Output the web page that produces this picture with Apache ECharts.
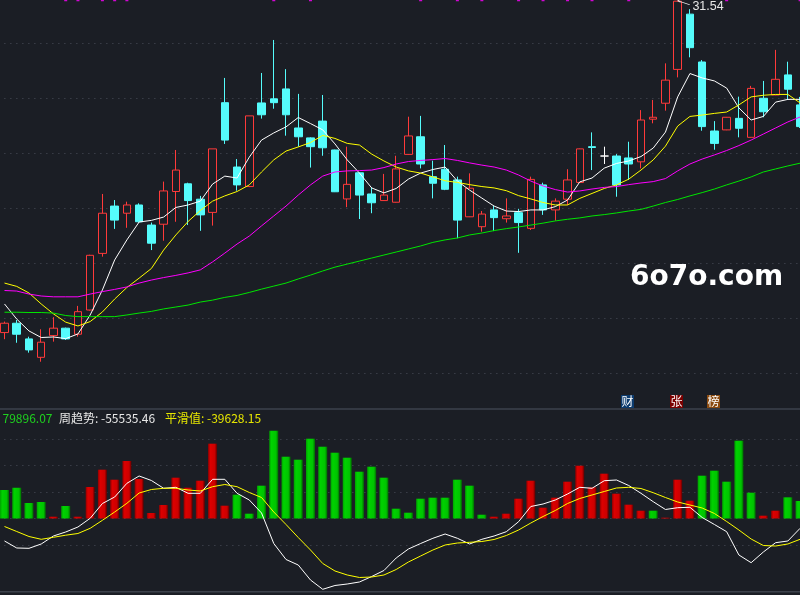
<!DOCTYPE html>
<html><head><meta charset="utf-8">
<script src="https://cdn.jsdelivr.net/npm/echarts@6.0.0/dist/echarts.min.js"></script>
<style>html,body{margin:0;padding:0;background:#1b1e25;}#c{width:800px;height:595px;}</style>
</head><body><div id="c"></div>
<script>
// ---- main panel: [open, close, low, high]
const ohlc = [
 [19.47,19.81,19.23,19.87],[19.81,19.41,19.10,19.93],[19.24,18.84,18.74,19.32],[18.57,19.12,18.41,19.59],
 [19.36,19.63,19.14,20.03],[19.63,19.24,19.20,19.65],[19.41,20.23,19.32,20.44],[20.29,22.28,20.27,22.30],
 [22.35,23.81,22.23,24.51],[24.07,23.56,23.24,24.29],[23.81,24.11,23.28,24.23],[24.11,23.50,23.47,24.17],
 [23.38,22.72,22.47,23.47],[23.41,24.62,22.81,24.96],[24.60,25.38,23.50,26.11],[24.88,24.27,23.38,24.92],
 [24.32,23.75,23.17,24.44],[23.84,26.15,23.36,26.15],[27.83,26.47,26.33,28.73],[25.49,24.84,24.63,25.78],
 [24.78,27.35,24.76,27.35],[27.82,27.39,27.25,28.91],[27.97,27.83,27.61,30.11],[28.33,27.39,26.63,29.05],
 [26.91,26.59,26.23,28.15],[26.55,26.23,25.47,26.57],[27.16,26.19,25.90,28.11],[26.11,24.59,24.58,26.12],
 [24.33,24.86,24.03,26.23],[25.28,24.47,23.60,25.29],[24.51,24.19,23.81,24.75],[24.27,24.47,24.26,25.24],
 [24.21,25.42,24.20,25.90],[25.95,26.62,25.94,27.32],[26.59,25.60,25.44,27.35],[25.14,24.90,24.35,25.72],
 [25.41,24.68,24.65,26.29],[25.02,23.56,22.90,25.14],[23.68,24.72,23.67,25.26],[23.32,23.78,23.14,23.89],
 [23.93,23.65,23.16,24.08],[23.61,23.71,23.47,24.35],[23.83,23.47,22.37,23.97],[23.26,25.04,23.20,25.14],
 [24.84,23.93,23.75,24.92],[23.93,24.25,23.54,24.35],[24.32,25.02,24.11,25.41],[24.93,26.15,24.92,26.16],
 [26.23,26.20,25.38,26.75],[25.89,25.89,25.60,26.23],[25.89,24.84,24.41,25.96],[25.82,25.60,25.02,26.41],
 [25.68,27.20,25.44,27.56],[27.23,27.30,27.08,27.93],[27.81,28.65,27.54,29.26],[29.04,31.52,28.75,31.54],
 [31.05,29.83,29.48,31.23],[29.31,26.96,26.81,29.38],[26.80,26.35,26.12,27.16],[26.84,27.30,26.83,27.31],
 [27.26,26.90,26.57,28.05],[26.57,28.35,26.56,28.44],[27.99,27.50,27.30,28.62],[28.11,28.68,28.10,29.75],
 [28.84,28.32,27.93,29.32],[27.75,26.96,26.91,28.04]
];
const maWhite = [20.51,19.96,19.53,19.29,19.31,19.25,19.42,20.11,21.02,22.11,22.84,23.49,23.55,23.67,24.02,24.11,24.25,24.87,25.16,25.09,25.85,26.47,26.73,26.95,27.29,27.07,26.84,26.33,25.75,25.27,24.73,24.55,24.71,25.05,25.27,25.40,25.49,24.98,24.65,24.36,24.07,23.89,23.87,23.93,23.93,24.05,24.29,24.95,25.09,25.45,25.62,25.71,25.87,26.18,26.76,28.04,28.89,28.73,28.62,28.36,27.64,27.20,27.33,27.85,27.95,27.95];
const maYellow = [21.27,21.15,20.91,20.51,20.15,19.85,19.71,19.87,20.22,20.69,21.11,21.45,21.80,22.47,23.02,23.51,23.91,24.25,24.44,24.60,24.84,25.31,25.75,26.07,26.22,26.38,26.64,26.53,26.35,26.29,25.96,25.71,25.49,25.35,25.27,25.13,24.99,24.93,24.85,24.78,24.73,24.63,24.45,24.33,24.20,24.11,24.11,24.35,24.53,24.71,24.84,25.05,25.38,25.75,26.25,26.98,27.33,27.38,27.44,27.49,27.75,28.04,28.10,28.13,28.13,27.82];
const maMagenta = [21.00,20.98,20.87,20.80,20.77,20.77,20.77,20.87,20.96,21.04,21.13,21.27,21.38,21.47,21.55,21.64,21.75,22.04,22.36,22.69,22.98,23.35,23.71,24.07,24.47,24.84,25.16,25.31,25.35,25.36,25.38,25.47,25.60,25.69,25.73,25.76,25.80,25.73,25.64,25.56,25.49,25.38,25.20,24.98,24.80,24.67,24.58,24.62,24.69,24.75,24.78,24.85,24.91,24.96,25.07,25.35,25.60,25.78,25.93,26.09,26.27,26.47,26.69,26.91,27.13,27.31];
const maGreen = [20.21,20.21,20.20,20.20,20.18,20.09,20.05,20.05,20.05,20.05,20.11,20.18,20.24,20.33,20.40,20.47,20.58,20.65,20.75,20.82,20.93,21.05,21.16,21.27,21.42,21.56,21.71,21.85,21.96,22.07,22.18,22.29,22.40,22.51,22.62,22.75,22.84,22.91,23.02,23.09,23.18,23.25,23.31,23.38,23.45,23.53,23.59,23.64,23.71,23.76,23.82,23.89,23.95,24.07,24.20,24.31,24.44,24.56,24.69,24.84,24.98,25.13,25.31,25.42,25.53,25.63];
// signal marks along the top edge (candle indices)
const signalIdx = [5,6,8,9,10,22,25,34,37,39,42,44,46,48,51,59,65];
const signalLevel = 31.545;

// ---- lower panel
const barValues = [107500,116000,58500,62300,6800,47200,6800,118900,184200,146400,217000,149100,20800,50900,154000,116200,142600,282300,48300,89800,18100,123800,331300,233200,221900,301100,270900,248300,229400,176600,195500,154000,37000,21900,74700,78500,78500,146400,123800,14300,6800,18100,74700,142600,40800,78500,138900,199200,117700,169100,93600,52100,29400,29400,3000,146400,67200,161500,180400,138900,293600,97400,10600,29400,79896.07,66000];
// 1 = red bar, -1 = green bar
const barSign = [-1,-1,-1,-1,1,-1,1,1,1,1,1,1,1,1,1,1,1,1,1,-1,-1,-1,-1,-1,-1,-1,-1,-1,-1,-1,-1,-1,-1,-1,-1,-1,-1,-1,-1,-1,1,1,1,1,1,1,1,1,1,1,1,1,1,-1,1,1,1,-1,-1,-1,-1,-1,1,1,-1,-1];
const weekTrend = [-84900,-111300,-112500,-96200,-66000,-50900,-32100,800,56600,81100,132800,160400,143400,114000,117700,95100,95100,147900,147900,95100,69800,20800,-94300,-154700,-175500,-232100,-267200,-252800,-247200,-239600,-218900,-196200,-149100,-115100,-94300,-74700,-58500,-74700,-96200,-78500,-66000,-49800,-12100,45300,54700,69800,92500,117700,114000,142600,145300,124500,95100,63400,34000,40800,42300,3800,-22600,-49800,-137700,-166800,-126400,-91300,-84900,-37000];
const smoothVal = [-30200,-49100,-67900,-78500,-70900,-63000,-56600,-37000,-6800,24500,57400,96200,109400,114000,114000,107500,103800,120000,128300,120000,98100,79200,24500,-22600,-71700,-118900,-169800,-198100,-213200,-222600,-220800,-213200,-192500,-164200,-141500,-118900,-100000,-92500,-89800,-86800,-79200,-64200,-43400,-17000,7500,30200,56600,75500,88700,101900,115100,117700,113200,97400,79200,62300,50900,39600,18900,-11300,-43400,-77400,-101900,-103800,-96200,-78500];
const legendTexts = ['79896.07', '周趋势: -55535.46', '平滑值: -39628.15'];
const badges = ['财', '张', '榜'];
const categories = ohlc.map((_, i) => String(i + 1));

const BG = '#1b1e25';
const G = echarts.graphic;
const redGrad = new G.LinearGradient(0,0,1,0,[{offset:0,color:'#900000'},{offset:0.25,color:'#dd0000'},{offset:0.75,color:'#cc0000'},{offset:1,color:'#5c0000'}]);
const greenGrad = new G.LinearGradient(0,0,1,0,[{offset:0,color:'#00a000'},{offset:0.25,color:'#00d200'},{offset:0.75,color:'#00c400'},{offset:1,color:'#006a00'}]);

const gridL = -1.62, gridW = 807.84;
const dotted = {show:true, lineStyle:{color:'#4a4e58', type:[1,5], width:1}};
function xAx(gi){ return {type:'category', gridIndex:gi, data:categories, boundaryGap:true, show:false}; }

const chart = echarts.init(document.getElementById('c'), null, {renderer:'canvas'});
chart.setOption({
  backgroundColor: BG,
  animation: false,
  grid: [
    {left:gridL, width:gridW, top:-12, height:440, outerBoundsMode:'none'},
    {left:gridL, width:gridW, top:409, height:182.7, show:true, borderColor:'#3d424c', borderWidth:1.5, backgroundColor:'transparent', outerBoundsMode:'none'},
    {left:gridL, width:gridW, top:439, height:106, outerBoundsMode:'none'}
  ],
  xAxis: [xAx(0), xAx(1), xAx(2)],
  yAxis: [
    {type:'value', gridIndex:0, min:16, max:32, interval:2, axisLine:{show:false}, axisTick:{show:false}, axisLabel:{show:false},
     splitLine:Object.assign({showMinLine:false, showMaxLine:false}, dotted)},
    {type:'value', gridIndex:1, min:-276226, max:413208, axisLine:{show:false}, axisTick:{show:false}, axisLabel:{show:false}, splitLine:{show:false}},
    {type:'value', gridIndex:2, min:-100000, max:300000, interval:100000, axisLine:{show:false}, axisTick:{show:false}, axisLabel:{show:false}, splitLine:dotted}
  ],
  series: [
    {type:'candlestick', xAxisIndex:0, yAxisIndex:0, data:ohlc, barWidth:8, silent:true,
     itemStyle:{color:BG, color0:'#55fcfc', borderColor:'#ff3a3a', borderColor0:'#55fcfc', borderColorDoji:'#ffffff', borderWidth:1},
     markPoint:{
       symbol:'path://M0,0L3,-1.5M0,0L3,1.5M0,0L12,4', symbolSize:[12,5.5], symbolOffset:[6,1.25], symbolKeepAspect:false,
       itemStyle:{color:'none', borderColor:'#e6e6e6', borderWidth:1},
       label:{show:true, position:'right', distance:0, offset:[-1,5], formatter:'{c}', color:'#e6e6e6', fontSize:12.5, fontFamily:'Liberation Sans'},
       data:[{type:'max', valueDim:'highest'}], silent:true
     }},
    {type:'line', xAxisIndex:0, yAxisIndex:0, data:maWhite, symbol:'none', silent:true, lineStyle:{color:'#ffffff', width:1}},
    {type:'line', xAxisIndex:0, yAxisIndex:0, data:maYellow, symbol:'none', silent:true, lineStyle:{color:'#ffff00', width:1}},
    {type:'line', xAxisIndex:0, yAxisIndex:0, data:maMagenta, symbol:'none', silent:true, lineStyle:{color:'#ff00ff', width:1}},
    {type:'line', xAxisIndex:0, yAxisIndex:0, data:maGreen, symbol:'none', silent:true, lineStyle:{color:'#00e600', width:1}},
    {type:'scatter', xAxisIndex:0, yAxisIndex:0, data:signalIdx.map(i => [i, signalLevel]), symbol:'rect', symbolSize:[3,1.5], silent:true, itemStyle:{color:'#ff00ff'}},
    {type:'bar', xAxisIndex:1, yAxisIndex:1, barWidth:9, silent:true,
     data:barValues.map((v, i) => ({value:v, itemStyle:{color: barSign[i] > 0 ? redGrad : greenGrad}}))},
    {type:'line', xAxisIndex:1, yAxisIndex:1, data:weekTrend, symbol:'none', silent:true, lineStyle:{color:'#ffffff', width:1}},
    {type:'line', xAxisIndex:1, yAxisIndex:1, data:smoothVal, symbol:'none', silent:true, lineStyle:{color:'#ffff00', width:1}}
  ],
  graphic: [
    {type:'text', left:630, top:264, silent:true, style:{text:'6o7o.com', font:'bold 28px "DejaVu Sans"', fill:'#ffffff'}},
    {type:'text', left:2.5, top:412, silent:true, style:{text:legendTexts[0], font:'12px "Noto Sans CJK SC"', fill:'#1fd01f'}},
    {type:'text', left:59, top:412, silent:true, style:{text:legendTexts[1], font:'12px "Noto Sans CJK SC"', fill:'#e8e8e8'}},
    {type:'text', left:165, top:412, silent:true, style:{text:legendTexts[2], font:'12px "Noto Sans CJK SC"', fill:'#e6e600'}},
    {type:'group', left:621, top:395, children:[
      {type:'rect', shape:{x:0,y:0,width:13,height:13}, style:{fill:'#0c3b6e'}},
      {type:'text', x:6.5, y:6.5, style:{text:badges[0], font:'12px "Noto Sans CJK SC"', fill:'#ffffff', align:'center', verticalAlign:'middle'}}]},
    {type:'group', left:670, top:395, children:[
      {type:'rect', shape:{x:0,y:0,width:13,height:13}, style:{fill:'#7a0000'}},
      {type:'text', x:6.5, y:6.5, style:{text:badges[1], font:'12px "Noto Sans CJK SC"', fill:'#ffffff', align:'center', verticalAlign:'middle'}}]},
    {type:'group', left:707, top:395, children:[
      {type:'rect', shape:{x:0,y:0,width:13,height:13}, style:{fill:'#8a4a10'}},
      {type:'text', x:6.5, y:6.5, style:{text:badges[2], font:'12px "Noto Sans CJK SC"', fill:'#ffffff', align:'center', verticalAlign:'middle'}}]}
  ]
});
</script></body></html>
